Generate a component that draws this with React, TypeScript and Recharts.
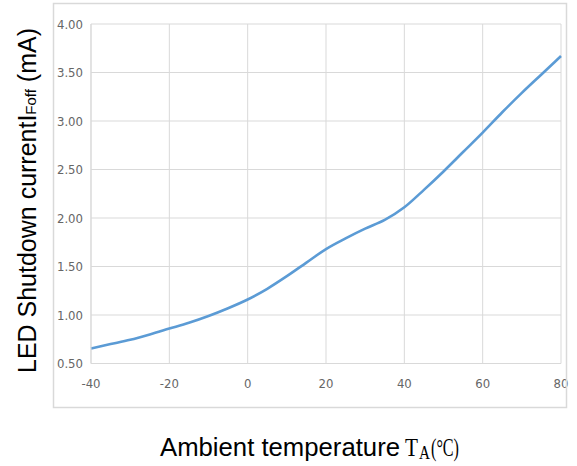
import React from 'react';
import { LineChart, Line, XAxis, YAxis, CartesianGrid } from 'recharts';

// temperature (°C) and shutdown current (mA)
const temps = [-40, -35, -30, -25, -20, -15, -10, -5, 0, 5, 10, 15, 20, 25, 30, 35, 40, 45, 50, 55, 60, 65, 70, 75, 80];
const current = [0.655, 0.70, 0.745, 0.80, 0.86, 0.92, 0.99, 1.07, 1.16, 1.27, 1.40, 1.54, 1.68, 1.79, 1.89, 1.98, 2.11, 2.29, 2.48, 2.68, 2.88, 3.09, 3.29, 3.48, 3.67];

const xTicks = [-40, -20, 0, 20, 40, 60, 80];
const yTicks = [0.5, 1.0, 1.5, 2.0, 2.5, 3.0, 3.5, 4.0];

const W = 577;
const H = 466;
const gridColor = '#d9d9d9';
const tickColor = '#666666';
const lineColor = '#5b9bd5';
const tickFont = "'Liberation Sans Narrow', 'DejaVu Sans Condensed', sans-serif";
const serif = "'Liberation Serif', 'Times New Roman', serif";

const data = temps.map((t, i) => ({ t, v: current[i] }));

export default function App() {
    return (
        <div style={{ position: 'absolute', left: 0, top: 0, width: W, height: H, background: '#fff' }}>
            <LineChart width={W} height={H} data={data} margin={{ top: 24, right: 16, bottom: 72.5, left: 0 }}>
                <CartesianGrid stroke={gridColor} strokeWidth={1} />
                <XAxis
                    dataKey="t"
                    type="number"
                    domain={[-40, 80]}
                    ticks={xTicks}
                    height={30}
                    axisLine={{ stroke: gridColor }}
                    tickLine={false}
                    tickMargin={9}
                    tick={{ fill: tickColor, fontSize: 13, fontFamily: tickFont }}
                />
                <YAxis
                    type="number"
                    domain={[0.5, 4]}
                    ticks={yTicks}
                    width={91}
                    axisLine={{ stroke: gridColor }}
                    tickLine={false}
                    tickFormatter={(v: number) => v.toFixed(2)}
                    tick={{ fill: tickColor, fontSize: 13, fontFamily: tickFont }}
                />
                <Line
                    type="monotone"
                    dataKey="v"
                    stroke={lineColor}
                    strokeWidth={2.6}
                    dot={false}
                    isAnimationActive={false}
                />
            </LineChart>
            <svg width={W} height={H} style={{ position: 'absolute', left: 0, top: 0, pointerEvents: 'none' }}>
                <rect x={53.5} y={3.5} width={513} height={404} fill="none" stroke={gridColor} strokeWidth={1.5} />
                <text
                    transform="translate(36, 373) rotate(-90)"
                    fontFamily="'Liberation Sans', Arial, sans-serif"
                    fontSize={25}
                    fill="#000"
                    textLength={345}
                    lengthAdjust="spacingAndGlyphs"
                >
                    LED Shutdown current<tspan>I</tspan><tspan fontSize={15}>Foff</tspan> (mA)
                </text>
                <text
                    x={160}
                    y={456}
                    fontFamily="'Liberation Sans', Arial, sans-serif"
                    fontSize={25}
                    fill="#000"
                    textLength={240}
                    lengthAdjust="spacingAndGlyphs"
                >
                    Ambient temperature
                </text>
                <text x={405} y={456} fontFamily={serif} fontSize={25} fill="#000" textLength={13} lengthAdjust="spacingAndGlyphs">
                    T
                </text>
                <text x={419} y={459} fontFamily={serif} fontSize={18} fill="#000" textLength={11} lengthAdjust="spacingAndGlyphs">
                    A
                </text>
                <text
                    x={431}
                    y={456}
                    fontFamily={serif}
                    fontSize={25}
                    fill="#000"
                    textLength={28}
                    lengthAdjust="spacingAndGlyphs"
                >
                    (°C)
                </text>
            </svg>
        </div>
    );
}
